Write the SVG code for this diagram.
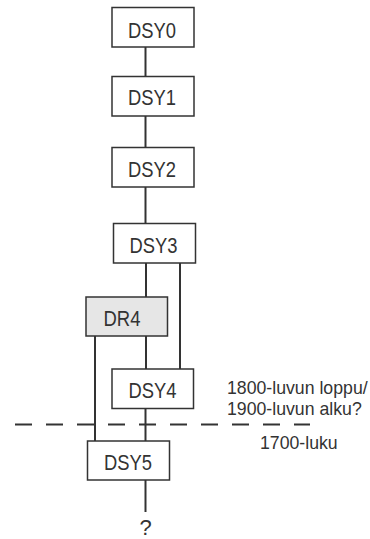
<svg xmlns="http://www.w3.org/2000/svg" width="370" height="539" viewBox="0 0 370 539">
<style>
.box{fill:#fff;stroke:#333;stroke-width:1.5}
.gray{fill:#e6e6e6}
.lbl{font-family:"Liberation Sans",Arial,sans-serif;font-size:22px;fill:#333;text-anchor:middle}
.note{font-family:"Liberation Sans",Arial,sans-serif;font-size:17.7px;fill:#333}
.con{stroke:#333;stroke-width:2;fill:none}
</style>
<rect width="370" height="539" fill="#fff"/>
<g id="connectors">
<line class="con" x1="145.5" y1="47" x2="145.5" y2="76"/>
<line class="con" x1="145.5" y1="116" x2="145.5" y2="147"/>
<line class="con" x1="145.5" y1="187" x2="145.5" y2="223"/>
<line class="con" x1="146" y1="263" x2="146" y2="297"/>
<line class="con" x1="180" y1="263" x2="180" y2="369"/>
<line class="con" x1="146" y1="336" x2="146" y2="369"/>
<line class="con" x1="95" y1="336" x2="95" y2="441"/>
<line class="con" x1="145.5" y1="408" x2="145.5" y2="441"/>
<line class="con" x1="145.5" y1="480" x2="145.5" y2="512"/>
<line id="divider" class="con" x1="15" y1="424.5" x2="310" y2="424.5" stroke-dasharray="17 14"/>
</g>
<g id="DSY0"><rect class="box" x="112" y="7.5" width="82" height="39.5"/><text class="lbl" x="152" y="38" textLength="48" lengthAdjust="spacingAndGlyphs">DSY0</text></g>
<g id="DSY1"><rect class="box" x="112" y="76.5" width="82" height="39.5"/><text class="lbl" x="152" y="105" textLength="48" lengthAdjust="spacingAndGlyphs">DSY1</text></g>
<g id="DSY2"><rect class="box" x="112" y="147.5" width="82" height="39.5"/><text class="lbl" x="152" y="177" textLength="48" lengthAdjust="spacingAndGlyphs">DSY2</text></g>
<g id="DSY3"><rect class="box" x="113.5" y="223.5" width="82" height="39.5"/><text class="lbl" x="153.5" y="253" textLength="48" lengthAdjust="spacingAndGlyphs">DSY3</text></g>
<g id="DR4"><rect class="box gray" x="86" y="297" width="81.5" height="39"/><text class="lbl" x="122" y="326" textLength="37" lengthAdjust="spacingAndGlyphs">DR4</text></g>
<g id="DSY4"><rect class="box" x="112" y="369" width="81.5" height="39.5"/><text class="lbl" x="152.5" y="398" textLength="48" lengthAdjust="spacingAndGlyphs">DSY4</text></g>
<g id="DSY5"><rect class="box" x="87.5" y="441" width="82" height="39"/><text class="lbl" x="128" y="470" textLength="48" lengthAdjust="spacingAndGlyphs">DSY5</text></g>
<g id="q"><text class="lbl" x="145.5" y="535" font-size="20">?</text></g>
<g id="notes">
<text class="note" x="227" y="394">1800-luvun loppu/</text>
<text class="note" x="227" y="415">1900-luvun alku?</text>
<text class="note" x="260" y="449">1700-luku</text>
</g>
</svg>
